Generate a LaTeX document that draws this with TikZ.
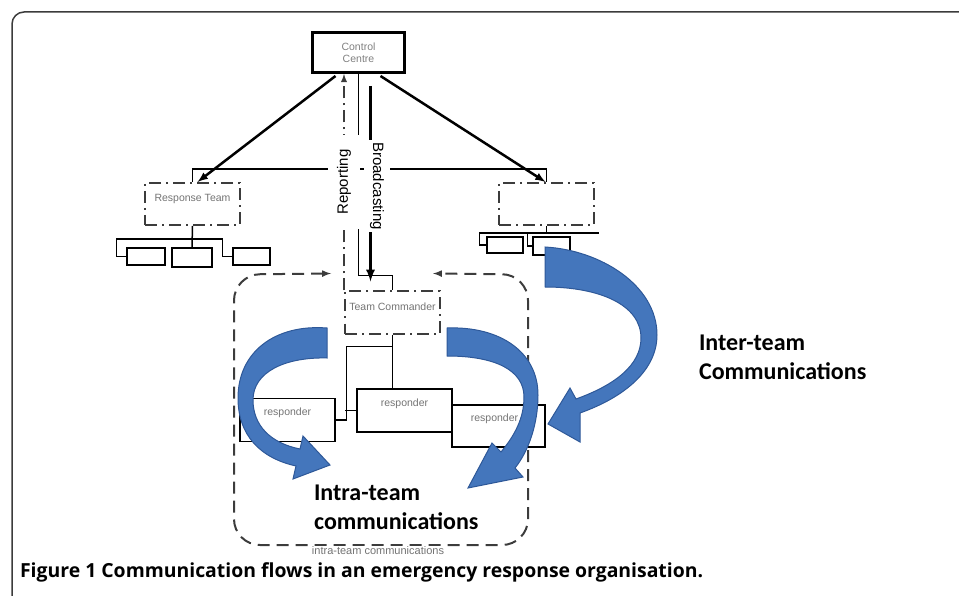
\documentclass[tikz,border=0pt]{standalone}
\usepackage{fontspec}
\setmainfont{Liberation Sans}
\newfontfamily\calfont{Carlito}
\newfontfamily\capfont{Open Sans}
\usetikzlibrary{calc}
\definecolor{flowblue}{RGB}{68,118,188}
\definecolor{flowedge}{RGB}{46,88,152}
\definecolor{boxgrey}{RGB}{60,60,60}
\tikzset{
    ccbox/.style = {draw, line width=3pt, minimum width=92pt, minimum height=40pt, align=center, text=gray, font=\fontsize{10.5}{12}\selectfont},
    ddbox/.style = {draw=boxgrey, line width=2pt, dash pattern=on 12pt off 5pt on 2pt off 5pt, minimum width=95pt, minimum height=42pt},
    resp/.style = {draw, line width=1.3pt, minimum width=95pt, minimum height=43pt},
    mini/.style = {draw, line width=1.5pt, minimum height=17pt, inner sep=0pt},
    small/.style = {text=gray!90!black, font=\fontsize{10.5}{12}\selectfont},
    vlabel/.style = {fill=white, font=\fontsize{15}{15}\selectfont},
    bluearrow/.style = {fill=flowblue, draw=flowedge, line width=1pt},
    bigtext/.style = {font=\calfont\bfseries\fontsize{24}{29}\selectfont, align=left, anchor=west},
}
\begin{document}
\begin{tikzpicture}[x=1pt, y=-1pt, >=latex, line width=1.5pt]
\useasboundingbox (0,0) rectangle (959,596);
\draw[boxgrey, rounded corners=12pt] (12,610) -- (12,12) -- (970,12);

\node[ccbox] (cc) at (358.5,52.5) {Control\\Centre};
\node[ddbox, label={[small, anchor=north, yshift=-8pt]north:Response Team}] (rt) at (192.5,204) {};
\node[ddbox] (rb) at (546.5,204) {};
\node[ddbox, label={[small, anchor=north, yshift=-8pt]north:Team Commander}] (tc) at (392.5,312.5) {};

\node[mini, minimum width=38pt] (s1) at (146,256.5) {};
\node[mini, minimum width=40pt, minimum height=19pt] (s2) at (192,257.5) {};
\node[mini, minimum width=37pt] (s3) at (251.5,256.5) {};
\node[mini, minimum width=36pt, minimum height=16pt] (s4) at (505,245) {};
\node[mini, minimum width=37pt, minimum height=18pt] (s5) at (551.5,246) {};
\draw (rt.south) -- (s2.north);
\draw (s1.west) -- ++(-10,0) |- ($(rt.south)+(0,13)$) -| ($(s3.west)+(-10,0)$) -- (s3.west);
\draw (rb.south) -- ++(0,7);
\draw (s4.west) -- ++(-7,0) |- ($(rb.south)+(0,7)$) -- ++(52,0);
\draw ($(rb.south)+(-19,7)$) |- (s5.west);

\draw[->, line width=2.5pt] ($(cc.south)+(-23,2)$) -- ($(rt.north)+(5,0)$);
\draw[->, line width=2.5pt] ($(cc.south)+(22,2)$) -- ($(rb.north)+(-1,0)$);
\draw (rt.north) -- ++(0,-13) -| (rb.north);
\draw (cc.south) |- ($(tc.north)+(0,-15)$) -- (tc.north);
\draw[->, line width=3pt] ($(cc.south)+(12,12)$) -- ($(tc.north)+(-22,-9)$);
\draw[->, boxgrey, line width=1.8pt, dash pattern=on 12pt off 5pt on 2pt off 5pt] (tc.north west) -- (tc.north west |- cc.south);
\node[vlabel, rotate=90, inner xsep=14pt, inner ysep=9pt] (rep) at (344,182) {Reporting};
\node[vlabel, rotate=-90, inner xsep=2pt, inner ysep=6pt] (brd) at (377,186) {Broadcasting};

\coordinate (tl) at ($(tc.north west)+(-13,-17)$);
\coordinate (tr) at ($(tc.north east)+(-8,-17)$);
\draw[<->, boxgrey, line width=2pt, dash pattern=on 12pt off 7pt, rounded corners=26pt] (tl) -- (234,274.5) -- (234,545) -- (528,545) -- (528,274.5) -- (tr);
\node[small, fill=white, inner sep=1pt, font=\fontsize{11}{12}\selectfont] (itc) at (378,551) {intra-team communications};

\node[resp, label={[small, yshift=7pt]center:responder}] (r1) at (287.5,420) {};
\node[resp, label={[small, yshift=7pt]center:responder}] (r2) at (404.5,410.5) {};
\node[resp, minimum width=93pt, minimum height=42pt, label={[small, yshift=7pt, xshift=-4pt]center:responder}] (r3) at (498.5,426) {};
\draw (tc.south) -- (tc.south |- r2.north);
\draw ($(tc.south)+(0,12)$) -| ($(r1.east)+(11,0)$) -- (r1.east);
\draw ($(r2.west)+(-11,0)$) -- (r2.west);

\draw[bluearrow] (327,328) .. controls (275,324) and (238,352) .. (238,398) .. controls (238,435) and (260,458) .. (296,466) -- (293,479) -- (330,465) -- (303,436) -- (300,449) .. controls (270,443) and (253,425) .. (253,400) .. controls (253,372) and (285,357) .. (327,358) -- cycle;
\draw[bluearrow] (447,328) .. controls (500,326) and (538,352) .. (538,395) .. controls (538,425) and (528,452) .. (515,468) -- (523,477) -- (468,488) -- (492,443) -- (501,452) .. controls (515,435) and (524,418) .. (524,397) .. controls (524,370) and (495,356) .. (447,356) -- cycle;
\draw[bluearrow] (545,247) .. controls (600,250) and (657,285) .. (657,335) .. controls (657,370) and (625,397) .. (580,413) -- (580,442) -- (548,424) -- (570,388) -- (576,399) .. controls (615,385) and (641,365) .. (641,338) .. controls (641,305) and (600,287) .. (545,287) -- cycle;

\node[bigtext] (inter) at (695,357.5) {Inter-team\\Communications};
\node[bigtext] (intra) at (310,507.5) {Intra-team\\communications};
\node[anchor=west, font=\capfont\bfseries\fontsize{19.4}{22}\selectfont] (cap) at (16,572) {Figure 1 Communication flows in an emergency response organisation.};
\end{tikzpicture}
\end{document}
